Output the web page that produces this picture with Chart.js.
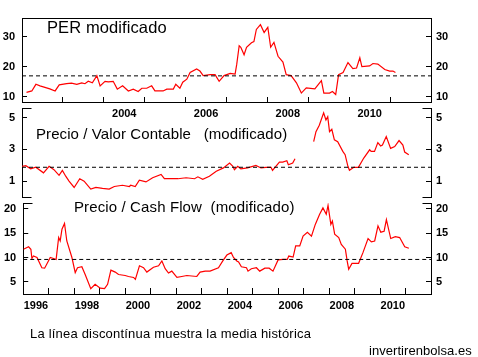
<!DOCTYPE html>
<html><head><meta charset="utf-8">
<script src="https://cdn.jsdelivr.net/npm/chart.js@4/dist/chart.umd.min.js"></script>
<style>
html,body{margin:0;padding:0;background:#fff;}
#wrap{position:relative;width:478px;height:357px;overflow:hidden;font-family:"Liberation Sans",Arial,sans-serif;}
canvas{position:absolute;left:0;top:0;}
.t{position:absolute;white-space:pre;color:#000;line-height:1;}
</style></head><body>
<div id="wrap">
<canvas id="c1" width="478" height="357"></canvas>
<canvas id="c2" width="478" height="357"></canvas>
<canvas id="c3" width="478" height="357"></canvas>
<div class="t" style="left:47px;top:18.5px;font-size:16.5px;letter-spacing:0.1px">PER modificado</div>
<div class="t" style="left:36px;top:126px;font-size:15px;letter-spacing:0.08px">Precio / Valor Contable   (modificado)</div>
<div class="t" style="left:74px;top:199px;font-size:15px;letter-spacing:0.12px">Precio / Cash Flow  (modificado)</div>
<div class="t" style="left:30px;top:327px;font-size:13px;letter-spacing:0.2px">La línea discontínua muestra la media histórica</div>
<div class="t" style="left:369px;top:344px;font-size:13px;letter-spacing:0.05px">invertirenbolsa.es</div>
</div>
<script>
// ---------- DATA ----------
const perYears = [2002.11,2002.24,2002.34,2002.44,2002.56,2002.68,2002.81,2002.91,2003.09,2003.21,2003.34,2003.46,2003.54,2003.62,2003.72,2003.83,2003.91,2004.03,2004.11,2004.23,2004.33,2004.46,2004.60,2004.72,2004.84,2004.93,2005.05,2005.17,2005.25,2005.45,2005.54,2005.70,2005.76,2005.86,2005.93,2006.03,2006.11,2006.27,2006.35,2006.43,2006.60,2006.72,2006.82,2006.94,2007.09,2007.21,2007.25,2007.31,2007.35,2007.43,2007.49,2007.61,2007.67,2007.73,2007.83,2007.92,2008.01,2008.08,2008.16,2008.26,2008.38,2008.46,2008.58,2008.71,2008.83,2008.95,2009.16,2009.32,2009.38,2009.52,2009.59,2009.67,2009.74,2009.85,2009.97,2010.09,2010.18,2010.26,2010.31,2010.50,2010.58,2010.70,2010.87,2010.99,2011.07,2011.13];
const perValues = [11.5,12.0,14.2,13.7,13.2,12.7,12.0,14.0,14.4,14.6,14.2,14.7,14.4,15.2,14.7,17.1,13.7,15.2,15.0,15.2,12.6,13.7,12.0,12.6,11.8,12.9,12.9,13.7,12.0,12.0,12.6,12.6,14.2,12.9,14.9,15.9,18.1,19.3,18.6,17.1,17.4,17.4,15.2,17.1,17.8,17.6,20.8,27.0,26.5,24.0,26.5,28.0,28.4,32.4,34.0,31.4,33.1,26.5,28.1,23.5,21.6,17.4,17.1,14.7,11.3,13.0,12.7,15.4,11.3,11.3,11.8,10.8,17.4,18.1,21.4,19.4,19.6,23.0,20.1,20.3,21.1,20.9,19.1,18.6,18.6,18.1];
const perMean = 17;

const pbvYears = [1996.00,1996.15,1996.34,1996.54,1996.84,1997.06,1997.25,1997.45,1997.58,1997.71,1997.84,1998.04,1998.26,1998.43,1998.69,1998.89,1999.15,1999.41,1999.61,1999.93,2000.20,2000.25,2000.43,2000.59,2000.85,2001.11,2001.44,2001.57,2001.83,2002.10,2002.42,2002.75,2002.88,2003.07,2003.33,2003.60,2003.88,2004.12,2004.25,2004.31,2004.44,2004.56,2004.82,2005.15,2005.35,2005.54,2005.74,2005.80,2006.07,2006.20,2006.36,2006.42,2006.59,2006.68,2007.00,2007.41,2007.50,2007.63,2007.80,2007.89,2007.96,2008.03,2008.12,2008.22,2008.35,2008.55,2008.64,2008.75,2008.81,2008.98,2009.16,2009.37,2009.60,2009.66,2009.79,2009.92,2010.03,2010.10,2010.25,2010.42,2010.58,2010.75,2010.90,2010.97,2011.13];
const pbvValues = [1.93,1.97,1.77,1.87,1.52,1.93,1.72,1.36,1.67,1.31,1.0,0.6,1.15,1.0,0.5,0.6,0.54,0.5,0.66,0.74,0.66,0.74,0.66,1.06,0.95,1.21,1.42,1.15,1.15,1.15,1.21,1.15,1.27,1.11,1.31,1.62,1.83,2.14,1.93,1.72,1.93,1.77,1.83,1.99,1.83,1.87,1.87,1.68,2.2,2.2,2.28,2.03,2.14,2.41,null,3.48,4.11,4.52,5.3,4.85,5.05,4.11,4.26,3.6,3.48,2.87,2.66,1.93,1.68,1.87,1.87,2.45,2.97,2.87,2.87,3.42,3.21,3.27,3.8,3.06,3.17,3.55,3.27,2.83,2.66];
const pbvMean = 1.87;

const pcfYears = [1996.01,1996.21,1996.30,1996.34,1996.40,1996.54,1996.73,1996.84,1997.06,1997.19,1997.29,1997.39,1997.45,1997.52,1997.62,1997.71,1997.91,1998.04,1998.13,1998.30,1998.43,1998.65,1998.82,1999.02,1999.19,1999.31,1999.44,1999.61,1999.74,2000.00,2000.13,2000.33,2000.40,2000.56,2000.72,2000.85,2001.11,2001.31,2001.44,2001.57,2001.70,2001.83,2002.03,2002.22,2002.42,2002.61,2002.81,2002.94,2003.14,2003.33,2003.66,2003.83,2003.99,2004.16,2004.25,2004.38,2004.45,2004.56,2004.76,2004.82,2004.95,2005.15,2005.28,2005.48,2005.65,2005.80,2006.00,2006.20,2006.36,2006.42,2006.59,2006.69,2006.85,2006.98,2007.15,2007.31,2007.46,2007.63,2007.76,2007.89,2007.96,2008.07,2008.13,2008.22,2008.38,2008.48,2008.64,2008.71,2008.77,2008.90,2009.16,2009.33,2009.53,2009.66,2009.79,2009.92,2010.03,2010.16,2010.25,2010.42,2010.60,2010.77,2010.97,2011.13];
const pcfValues = [11.7,12.2,11.7,9.8,10.3,10.0,7.9,7.8,10.0,9.8,9.6,14.1,13.4,15.8,17.0,13.4,10.0,6.9,7.9,8.1,6.5,3.6,4.5,3.7,3.6,4.5,7.4,7.0,6.5,6.3,6.1,5.9,5.5,8.3,7.9,7.0,8.0,8.3,9.3,7.7,6.8,7.2,5.9,6.1,6.3,6.2,6.1,7.0,7.2,7.2,7.9,9.3,10.5,11.0,10.0,9.3,9.1,8.1,7.9,7.2,7.7,7.9,7.2,7.8,7.8,7.2,9.5,9.6,9.6,10.3,10.1,12.4,12.4,14.4,15.2,14.4,16.8,18.9,20.2,18.9,20.7,16.8,17.5,14.8,14.1,12.7,11.7,9.3,7.6,8.8,8.8,11.0,13.9,13.2,13.4,16.5,15.2,15.4,17.8,13.9,14.3,14.1,12.2,11.9];
const pcfMean = 9.6;

const perTicks = [10,20,30];
const pbvTicks = [1,3,5];
const pcfTicks = [5,10,15,20];

// ---------- CHARTS ----------
Chart.defaults.font.family = '"Liberation Sans", Arial, sans-serif';
Chart.defaults.color = '#000';

const zip = (xs, ys) => xs.map((x, i) => ({x, y: ys[i]}));
const RED = '#ff0000';
const tickFont = {size: 11, weight: 'bold'};

function capsPlugin(spec) {
  return {
    id: spec.id,
    afterDraw(chart) {
      const {ctx, chartArea: a} = chart;
      ctx.save();
      ctx.strokeStyle = '#000';
      ctx.lineWidth = 1;
      ctx.beginPath();
      const L = 9;
      const xl = Math.round(a.left) + 0.5, xr = Math.round(a.right) + 0.5;
      const yt = Math.round(a.top) + 0.5, yb = Math.round(a.bottom) + 0.5;
      if (spec.tl) { ctx.moveTo(xl, yt); ctx.lineTo(xl + L, yt); ctx.moveTo(xr, yt); ctx.lineTo(xr - L, yt); }
      if (spec.bl) { ctx.moveTo(xl, yb); ctx.lineTo(xl + L, yb); ctx.moveTo(xr, yb); ctx.lineTo(xr - L, yb); }
      ctx.stroke();
      ctx.restore();
    }
  };
}

function yAxes(min, max, vals) {
  const common = {
    type: 'linear', min, max,
    afterBuildTicks: s => { s.ticks = vals.map(v => ({value: v})); },
    grid: {drawOnChartArea: false, drawTicks: true, tickLength: -5, color: '#000', lineWidth: 1},
    border: {display: true, color: '#000', width: 1}
  };
  return {
    y: Object.assign({}, common, {position: 'left', ticks: {font: tickFont, color: '#000', padding: 12}, afterFit: s => { s.width = 22; }}),
    y2: Object.assign({}, common, {position: 'right', ticks: {font: tickFont, color: '#000', padding: 10}, afterFit: s => { s.width = 47; }})
  };
}

function xAxis(min, max, labelFn, offset, pad) {
  const yrs = [];
  for (let y = min; y <= max; y++) yrs.push(y);
  return {
    type: 'linear', position: 'bottom', min, max,
    afterBuildTicks: s => { s.ticks = yrs.map(v => ({value: v})); },
    ticks: {autoSkip: false, maxRotation: 0, labelOffset: offset, padding: pad, font: tickFont, color: '#000',
            callback: v => labelFn(v) ? String(v) : ''},
    grid: {drawOnChartArea: false, drawTicks: true, tickLength: -6, color: '#000', lineWidth: 1},
    border: {display: true, color: '#000', width: 1},
    afterFit: s => { s.height = 20; }
  };
}

function lineDs(pts) {
  return {data: pts, borderColor: RED, borderWidth: 1.2, pointRadius: 0, tension: 0, fill: false, spanGaps: false, yAxisID: 'y'};
}
function meanDs(x0, x1, m) {
  return {data: [{x: x0, y: m}, {x: x1, y: m}], borderColor: '#000', borderWidth: 1, borderDash: [4, 3], pointRadius: 0, fill: false, yAxisID: 'y'};
}
const baseOpts = {
  responsive: false, animation: false, devicePixelRatio: 1,
  plugins: {legend: {display: false}, tooltip: {enabled: false}, title: {display: false}},
  events: []
};

// Top: PER modificado
new Chart(document.getElementById('c1'), {
  type: 'line',
  data: {datasets: [meanDs(2002, 2012, perMean), lineDs(zip(perYears, perValues))]},
  options: Object.assign({}, baseOpts, {
    layout: {padding: {left: 0, right: 0, top: 8, bottom: 234}},
    scales: Object.assign({
      x: xAxis(2002, 2012, v => v % 2 === 0 && v >= 2004 && v <= 2010, 20.45, 10),
      xt: {type: 'linear', position: 'top', min: 2002, max: 2012, ticks: {display: false},
           grid: {drawOnChartArea: false, drawTicks: false}, border: {display: true, color: '#000'},
           afterFit: s => { s.height = 0; }}
    }, yAxes(8, 36, perTicks))
  })
});

// Middle: Precio / Valor Contable
new Chart(document.getElementById('c2'), {
  type: 'line',
  data: {datasets: [meanDs(1996, 2012, pbvMean), lineDs(zip(pbvYears, pbvValues))]},
  options: Object.assign({}, baseOpts, {
    layout: {padding: {left: 0, right: 0, top: 108, bottom: 160}},
    scales: Object.assign({
      x: {type: 'linear', min: 1996, max: 2012, display: false}
    }, yAxes(0, 5.6, pbvTicks))
  }),
  plugins: [capsPlugin({id: 'capsMid', tl: true, bl: true})]
});

// Bottom: Precio / Cash Flow
new Chart(document.getElementById('c3'), {
  type: 'line',
  data: {datasets: [meanDs(1996, 2012, pcfMean), lineDs(zip(pcfYears, pcfValues))]},
  options: Object.assign({}, baseOpts, {
    layout: {padding: {left: 0, right: 0, top: 203, bottom: 43}},
    scales: Object.assign({
      x: xAxis(1996, 2012, v => v % 2 === 0 && v <= 2010, 12.75, 11)
    }, yAxes(2.5, 21.2, pcfTicks))
  }),
  plugins: [capsPlugin({id: 'capsBot', tl: true, bl: false})]
});
</script>
</body></html>
